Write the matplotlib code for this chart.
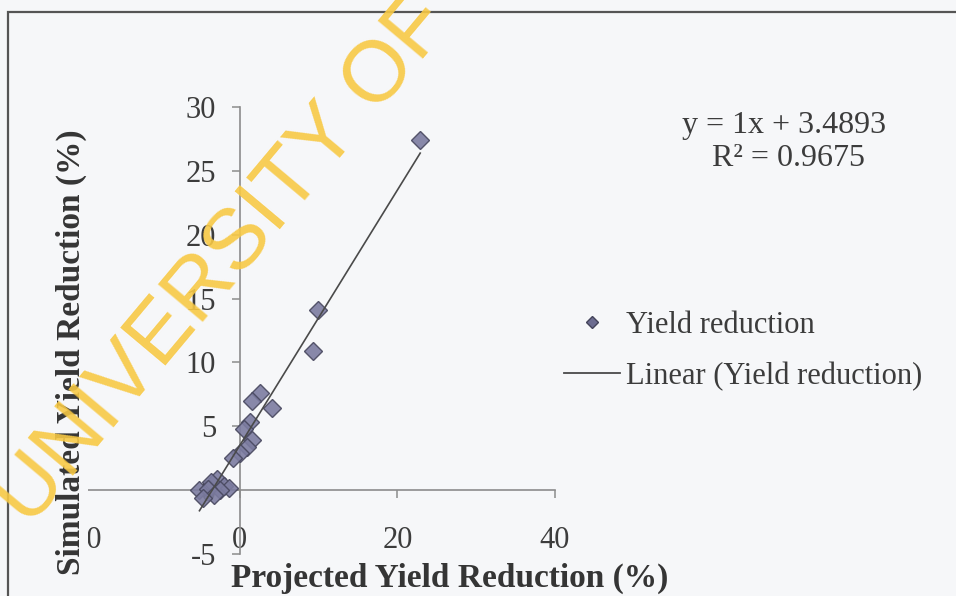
import matplotlib
matplotlib.use("Agg")
import matplotlib.pyplot as plt
from matplotlib.lines import Line2D
from matplotlib.patches import Rectangle
import numpy as np

# projected vs simulated yield reduction (%)
projected = [22.9, 9.9, 9.3, 2.6, 1.6, 4.1, 1.3, 0.6, 1.6, 0.9, 0.1, -0.8,
             -2.9, -3.6, -2.0, -5.1, -1.3, -2.5, -4.0, -3.2, -4.6]
simulated = [27.4, 14.1, 10.9, 7.6, 7.0, 6.4, 5.3, 4.8, 3.9, 3.4, 2.9, 2.5,
             0.9, 0.6, 0.3, 0.0, 0.2, 0.0, 0.1, -0.4, -0.6]

# trendline reported by the fit
slope = 1.0
intercept = 3.4893
r_squared = 0.9675

xticks = [-20, 0, 20, 40]
yticks = [-5, 0, 5, 10, 15, 20, 25, 30]

W, H = 956, 596
bg = '#F6F7F9'
plt.rcParams['font.family'] = ['Liberation Serif', 'DejaVu Serif']
plt.rcParams['axes.unicode_minus'] = False

fig = plt.figure(figsize=(W / 100, H / 100), dpi=100, facecolor=bg)

# axes placed in pixels: x -20..40 -> 82..555, y -5..30 -> 554..107
left, right, top, bottom = 82, 555, 107, 554
ax = fig.add_axes([left / W, 1 - bottom / H, (right - left) / W, (bottom - top) / H])
ax.patch.set_alpha(0)
ax.set_xlim(-20, 40)
ax.set_ylim(-5, 30)

for s in ['top', 'right']:
    ax.spines[s].set_visible(False)
ax.spines['left'].set_position(('data', 0))
ax.spines['bottom'].set_position(('data', 0))
for s in ['left', 'bottom']:
    ax.spines[s].set_color('#8c8c8c')
    ax.spines[s].set_linewidth(1.2)

ax.set_xticks(xticks)
ax.set_yticks(yticks)
ax.tick_params(axis='both', direction='out', length=6, width=1.1,
               color='#8c8c8c', labelsize=22, labelcolor='#3c3c3c')
ax.tick_params(axis='x', pad=20)
ax.tick_params(axis='y', pad=11)

ax.plot(projected, simulated, linestyle='none', marker='D', markersize=9.5,
        markerfacecolor='#7c7ca0', markeredgecolor='#48485f',
        markeredgewidth=1.0, alpha=0.9, zorder=3)

xs = np.array([min(projected), max(projected)])
ax.plot(xs, slope * xs + intercept, color='#4a4a4a', lw=1.2, zorder=4)

# legend
handles = [Line2D([], [], linestyle='none', marker='D', markersize=6,
                  markerfacecolor='#6c6c90', markeredgecolor='#44445a'),
           Line2D([], [], color='#4a4a4a', lw=1.3)]
fig.legend(handles, ['Yield reduction', 'Linear (Yield reduction)'],
           loc='center left', bbox_to_anchor=(536 / W, 1 - 351 / H),
           frameon=False, fontsize=22, handlelength=1.85, handletextpad=0.2,
           labelspacing=0.72, labelcolor='#3c3c3c')

fig.text(784 / W, 1 - 125 / H, 'y = 1x + 3.4893', ha='center', va='center',
         fontsize=23, color='#3c3c3c')
fig.text(788 / W, 1 - 158 / H, 'R² = 0.9675', ha='center', va='center',
         fontsize=23, color='#3c3c3c')

fig.text(450 / W, 1 - 578 / H, 'Projected Yield Reduction (%)', ha='center',
         va='center', fontsize=24, fontweight='bold', color='#353535')
fig.text(71 / W, 1 - 352 / H, 'Simulated Yield Reduction (%)', ha='center',
         va='center', rotation=90, fontsize=24, fontweight='bold',
         color='#353535',
         bbox=dict(boxstyle='square,pad=0.05', facecolor=bg, edgecolor='none'))

# chart area border
fig.patches.append(Rectangle((8 / W, -0.1), 1.2, 1 - 12 / H + 0.1,
                             transform=fig.transFigure, fill=False,
                             edgecolor='#555555', lw=1.6))

fig.text(224 / W, 1 - 262 / H, 'UNIVERSITY OF', ha='center', va='center',
         rotation=50, rotation_mode='anchor', fontsize=62,
         family='Liberation Sans', color='#F8C944', alpha=0.9, zorder=10)

fig.savefig('out.png', dpi=100, facecolor=bg)
